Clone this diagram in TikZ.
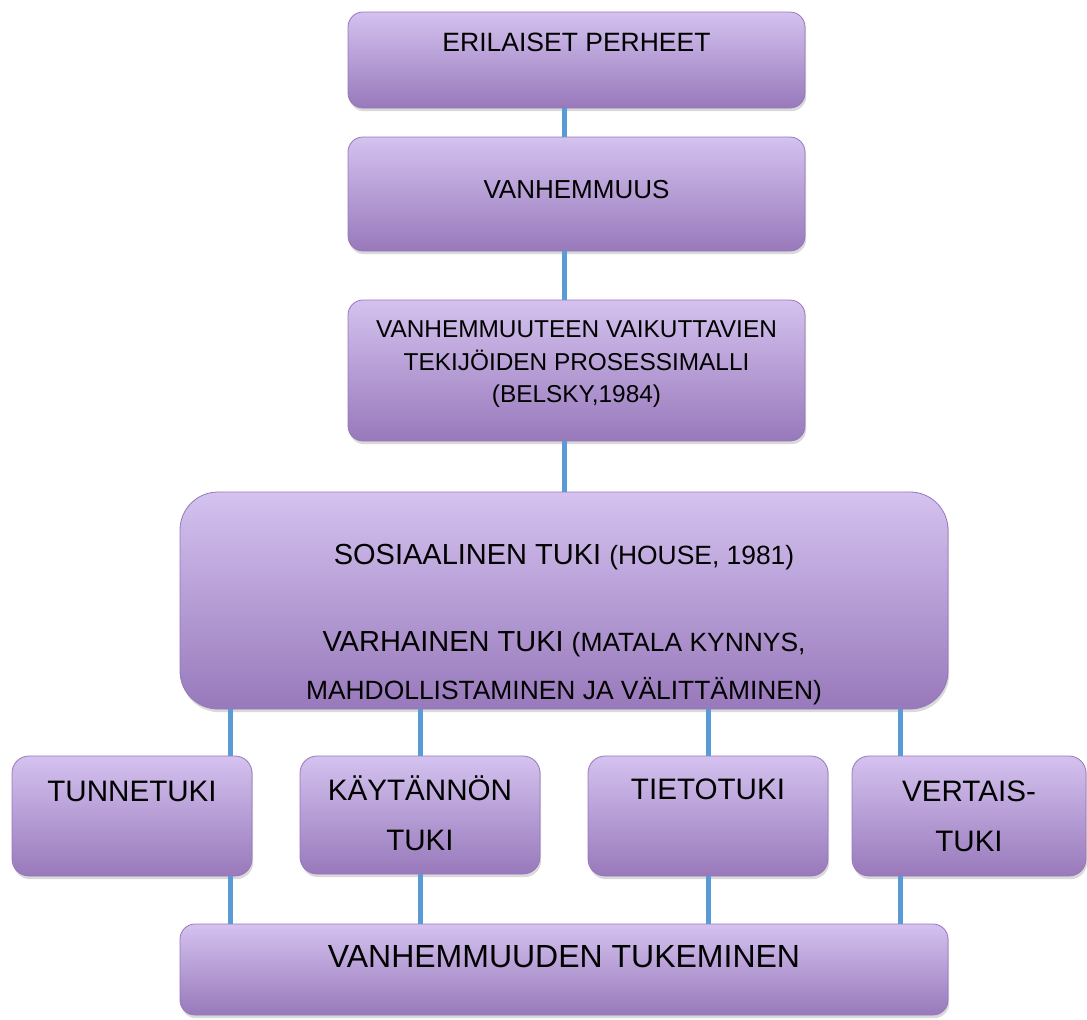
\documentclass[tikz,border=0pt]{standalone}
\usepackage{fontspec}
\setmainfont{Liberation Sans}
\usetikzlibrary{shadows}
\definecolor{boxtop}{RGB}{212,194,239}
\definecolor{boxbottom}{RGB}{152,121,187}
\definecolor{boxline}{RGB}{150,120,186}
\definecolor{linkblue}{RGB}{91,155,213}
\newcommand{\refsize}{\fontsize{13.2pt}{24pt}\selectfont}

\begin{document}
\begin{tikzpicture}[x=0.5pt, y=-0.5pt,
	box/.style={draw=boxline, thin, rounded corners=7.5pt, top color=boxtop, bottom color=boxbottom,
		drop shadow={shadow xshift=0.6pt, shadow yshift=-1.6pt, opacity=0.3}, inner sep=0pt},
	boxtext/.style={anchor=center, align=center, text=black, inner sep=0pt},
	link/.style={draw=linkblue, line width=2.5pt}]
	\useasboundingbox (0,0) rectangle (1087,1019);
	% main chain
	\node[box, minimum width=228.5pt, minimum height=48pt] (perheet) at (576.5,60) {};
	\node[box, minimum width=228.5pt, minimum height=57pt] (vanhemmuus) at (576.5,194) {};
	\node[box, minimum width=228.5pt, minimum height=70.5pt] (malli) at (576.5,370.5) {};
	\node[box, rounded corners=19pt, minimum width=384pt, minimum height=108.5pt] (sostuki) at (564,600.5) {};
	% support forms
	\node[box, rounded corners=8.5pt, minimum width=120pt, minimum height=60pt] (tunne) at (132,816) {};
	\node[box, rounded corners=8.5pt, minimum width=120pt, minimum height=59pt] (kaytanto) at (420,815) {};
	\node[box, rounded corners=8.5pt, minimum width=120pt, minimum height=60pt] (tieto) at (708,816) {};
	\node[box, rounded corners=8.5pt, minimum width=117pt, minimum height=60pt] (vertais) at (969,816) {};
	\node[box, minimum width=384pt, minimum height=45.5pt] (tukeminen) at (564,969.5) {};
	% texts
	\path (perheet.north) node[boxtext, yshift=-15.25pt, font=\fontsize{13.25pt}{16pt}\selectfont] {ERILAISET PERHEET};
	\path (vanhemmuus.north) node[boxtext, yshift=-26.5pt, font=\fontsize{13pt}{16pt}\selectfont] {VANHEMMUUS};
	\path (malli.north) node[boxtext, yshift=-32.5pt, font=\fontsize{12.2pt}{16.25pt}\selectfont]
		{VANHEMMUUTEEN VAIKUTTAVIEN\\TEKIJÖIDEN PROSESSIMALLI\\(BELSKY,1984)};
	\path (sostuki.north) node[boxtext, yshift=-66.5pt, font=\fontsize{14.5pt}{24pt}\selectfont]
		{SOSIAALINEN TUKI {\refsize (HOUSE, 1981)}\\[19.5pt]
		VARHAINEN TUKI {\refsize (MATALA KYNNYS,}\\
		{\refsize MAHDOLLISTAMINEN JA VÄLITTÄMINEN)}};
	\path (tunne.north) node[boxtext, yshift=-18pt, font=\fontsize{14.8pt}{25pt}\selectfont] {TUNNETUKI};
	\path (kaytanto.north) node[boxtext, yshift=-29pt, font=\fontsize{14.8pt}{25pt}\selectfont] {KÄYTÄNNÖN\\TUKI};
	\path (tieto.north) node[boxtext, yshift=-17pt, font=\fontsize{14.8pt}{25pt}\selectfont] {TIETOTUKI};
	\path (vertais.north) node[boxtext, yshift=-30.5pt, font=\fontsize{14.8pt}{25pt}\selectfont] {VERTAIS-\\TUKI};
	\path (tukeminen.north) node[boxtext, yshift=-16.5pt, font=\fontsize{16pt}{20pt}\selectfont] {VANHEMMUUDEN TUKEMINEN};
	% connectors
	\draw[link] (perheet.south -| 564,0) -- (vanhemmuus.north -| 564,0);
	\draw[link] (vanhemmuus.south -| 564,0) -- (malli.north -| 564,0);
	\draw[link] (malli.south -| 564,0) -- (sostuki.north -| 564,0);
	\foreach \cx/\form in {230/tunne, 420/kaytanto, 708/tieto, 900/vertais} {
		\draw[link] (sostuki.south -| \cx,0) -- (\form.north -| \cx,0);
		\draw[link] (\form.south -| \cx,0) -- (tukeminen.north -| \cx,0);
	}
\end{tikzpicture}
\end{document}
